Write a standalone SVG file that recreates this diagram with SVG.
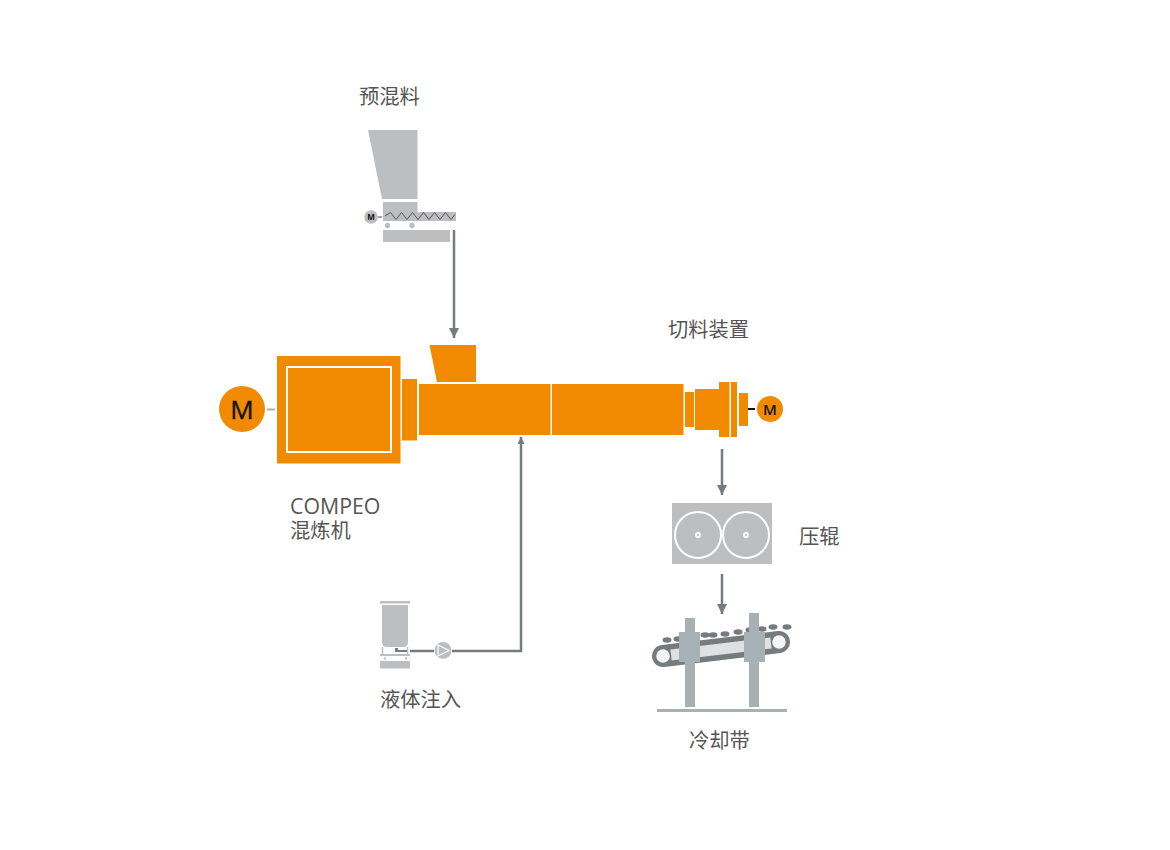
<svg xmlns="http://www.w3.org/2000/svg" width="1170" height="850" viewBox="0 0 1170 850">
<style>
.o{fill:#f28a00}.g{fill:#bcbec0}.c{fill:#a7b0b4}.d{fill:#767b7e}
.t{font-family:"Open Sans","Noto Sans CJK SC",sans-serif;font-size:21.300px;fill:#555}
.z{font-family:"Noto Sans CJK SC","Open Sans",sans-serif;font-size:20.300px;fill:#555}
.m{font-family:"Open Sans","Liberation Sans",sans-serif;fill:#111;text-anchor:middle}
.l{fill:none;stroke:#767b7e;stroke-width:2.500}
</style>
<defs><marker id="a" markerUnits="userSpaceOnUse" markerWidth="12" markerHeight="12" refX="10" refY="5" orient="auto"><path d="M0 0L10 5L0 10Z" fill="#767b7e"/></marker><marker id="b" markerUnits="userSpaceOnUse" markerWidth="10" markerHeight="10" refX="7" refY="3.500" orient="auto"><path d="M0 0L7 3.500L0 7Z" fill="#767b7e"/></marker></defs>
<rect width="1170" height="850" fill="#fff"/>
<g id="connectors">
<path class="l" d="M454 230V338" marker-end="url(#a)"/>
<path class="l" d="M410 651H434M452 651H521V437" marker-end="url(#b)"/>
<path class="l" d="M722 449V495" marker-end="url(#a)"/>
<path class="l" d="M722 574V614" marker-end="url(#a)"/>
<path d="M267 409.500H275" stroke="#a7b0b4" stroke-width="2"/>
<path d="M748 409H755" stroke="#111" stroke-width="2"/>
</g>
<g id="premix-feeder">
<polygon class="g" points="368,130 417.500,130 417.500,199 382,199"/>
<path class="g" d="M383 202H417.500V212H456V221H383Z"/>
<path d="M385 216l5.500-3.500 5.500 7 5.500-7 5.500 7 5.500-7 5.500 7 5.500-7 5.500 7 5.500-7 5.500 7 5.500-7 5.500 7 4-5" fill="none" stroke="#555" stroke-width="1"/>
<circle class="g" cx="387.500" cy="225.500" r="2.700"/><circle class="g" cx="412" cy="225.500" r="2.700"/>
<rect class="g" x="383" y="230" width="67" height="12"/>
<path d="M378 217H382" stroke="#888" stroke-width="1.500"/>
<circle class="g" cx="371" cy="217" r="6.800"/>
<text class="m" x="371" y="220" font-size="8" font-weight="700">M</text>
<text class="z" x="359" y="104">预混料</text>
</g>
<g id="extruder">
<circle class="o" cx="242" cy="409" r="23"/>
<text class="m" x="242" y="418.500" font-size="26" stroke="#111" stroke-width=".4">M</text>
<rect class="o" x="277" y="356" width="123.500" height="107.500"/>
<rect x="287" y="367" width="104" height="85" fill="none" stroke="#fff" stroke-width="2"/>
<rect class="o" x="402" y="379" width="15" height="61.500"/>
<rect class="o" x="419" y="384" width="131.500" height="51"/>
<rect class="o" x="552" y="384" width="131.500" height="51"/>
<polygon class="o" points="429.500,345 476,345 476,382 437,382"/>
<text class="t" x="290" y="514">COMPEO</text>
<text class="z" x="290" y="538">混炼机</text>
</g>
<g id="cutter">
<rect class="o" x="685" y="392" width="9" height="35"/>
<rect class="o" x="695" y="389" width="25" height="41"/>
<rect class="o" x="719" y="382" width="10.500" height="55"/>
<rect class="o" x="731" y="382" width="6" height="55"/>
<rect class="o" x="739" y="393" width="9" height="33"/>
<circle class="o" cx="770" cy="409" r="13"/>
<text class="m" x="770" y="414.500" font-size="15" font-weight="600">M</text>
<text class="z" x="668" y="337">切料装置</text>
</g>
<g id="rollers">
<rect class="g" x="672" y="503" width="100" height="61"/>
<circle cx="698" cy="535" r="23" fill="none" stroke="#fff" stroke-width="2"/>
<circle cx="746" cy="535" r="23" fill="none" stroke="#fff" stroke-width="2"/>
<circle cx="698" cy="535" r="2" fill="#bcbec0" stroke="#fff" stroke-width="1.800"/>
<circle cx="746" cy="535" r="2" fill="#bcbec0" stroke="#fff" stroke-width="1.800"/>
<text class="z" x="799" y="544">压辊</text>
</g>
<g id="liquid-injection">
<rect class="g" x="380" y="601" width="30" height="2.500"/>
<path class="g" d="M382 605H408V642Q408 647 403 647H387Q382 647 382 642Z"/>
<path d="M382.500 647V654M407.500 647V654M385 657V660M406 657V660" stroke="#bcbec0" stroke-width="1.500"/>
<rect class="g" x="380" y="654" width="30" height="2"/>
<rect class="g" x="380" y="661" width="30" height="7.500"/>
<path class="d" d="M395 648H398V650H407V652H395Z"/>
<circle class="g" cx="443" cy="650.500" r="8.500"/>
<polygon points="438,645 449,650.500 438,656" fill="#bcbec0" stroke="#fff" stroke-width="1.200"/>
<text class="z" x="380" y="707">液体注入</text>
</g>
<g id="cooling-belt">
<g class="d"><ellipse cx="667" cy="640" rx="4.500" ry="2.800"/><ellipse cx="678" cy="639" rx="4.500" ry="2.800"/><ellipse cx="705" cy="635" rx="4.500" ry="2.800"/><ellipse cx="713" cy="635" rx="4.500" ry="2.800"/><ellipse cx="725" cy="634" rx="4.500" ry="2.800"/><ellipse cx="738" cy="632" rx="4.500" ry="2.800"/><ellipse cx="750" cy="630" rx="4.500" ry="2.800"/><ellipse cx="762" cy="629" rx="4.500" ry="2.800"/><ellipse cx="773" cy="627" rx="4.500" ry="2.800"/><ellipse cx="787" cy="627" rx="4.500" ry="2.800"/></g>
<path d="M663 656L779 642" stroke="#767b7e" stroke-width="22" stroke-linecap="round"/>
<path d="M671 655L771 643" stroke="#dde1e3" stroke-width="11"/>
<circle cx="663" cy="656" r="7.500" fill="#f4f6f6" stroke="#767b7e" stroke-width="1.500"/><circle cx="779" cy="642" r="7.500" fill="#f4f6f6" stroke="#767b7e" stroke-width="1.500"/>
<rect class="c" x="685" y="618" width="10" height="89"/>
<rect class="c" x="749" y="613" width="10" height="94"/>
<rect class="c" x="679" y="632" width="21" height="30"/>
<rect class="c" x="744" y="632" width="21" height="30"/>
<rect class="c" x="657" y="709" width="130" height="3"/>
<text class="z" x="689" y="748">冷却带</text>
</g>
</svg>
